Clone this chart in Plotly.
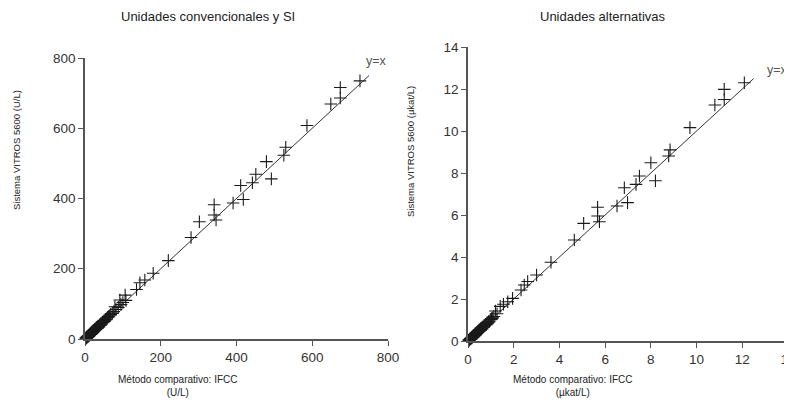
import plotly.graph_objects as go

# ---- Left panel: conventional / SI units (U/L) ----
conv_x = [2, 3, 4, 5, 6, 7, 8, 9, 10, 11, 12, 13, 14, 15, 16, 17, 18, 19, 20, 21, 22, 23, 24, 25, 26, 27, 28,
          29, 30, 31, 32, 33, 34, 35, 36, 38, 40, 42, 44, 46, 48, 50, 52, 54, 56, 58, 60, 62, 65, 68, 72, 76,
          79, 82, 88, 92, 95, 100, 106, 108, 136, 145, 158, 180, 220, 280, 302, 341, 341, 346, 391, 418, 411,
          442, 451, 492, 479, 525, 530, 586, 649, 674, 674, 726]
conv_y = [3, 2, 5, 4, 7, 8, 7, 10, 9, 12, 11, 14, 13, 16, 15, 18, 17, 21, 19, 23, 21, 25, 22, 27, 25, 29, 27,
          31, 29, 33, 31, 35, 33, 37, 35, 40, 41, 44, 43, 48, 47, 52, 51, 56, 55, 60, 62, 64, 66, 70, 73, 78,
          92, 84, 90, 111, 98, 104, 125, 110, 141, 160, 168, 187, 223, 289, 334, 353, 382, 339, 387, 397, 437,
          445, 469, 456, 505, 523, 546, 608, 669, 686, 716, 735]

# ---- Right panel: alternative units (µkat/L) ----
alt_x = [0.03, 0.05, 0.07, 0.08, 0.10, 0.12, 0.13, 0.15, 0.17, 0.18, 0.20, 0.22, 0.23, 0.25, 0.27, 0.28,
         0.30, 0.32, 0.33, 0.35, 0.37, 0.38, 0.40, 0.42, 0.43, 0.45, 0.47, 0.48, 0.50, 0.52, 0.53, 0.55,
         0.57, 0.58, 0.60, 0.63, 0.67, 0.70, 0.73, 0.77, 0.80, 0.83, 0.87, 0.90, 0.93, 0.97, 1.00, 1.03,
         1.08, 1.13, 1.20, 1.27, 1.41, 1.55, 1.74, 1.95, 2.32, 2.46, 2.61, 3.00, 3.63, 4.65, 5.06, 5.75,
         5.67, 5.67, 6.52, 6.98, 6.84, 7.35, 7.50, 8.20, 8.00, 8.78, 8.84, 9.71, 10.80, 11.21, 11.21, 12.09]
alt_y = [0.05, 0.03, 0.08, 0.07, 0.12, 0.13, 0.12, 0.17, 0.15, 0.20, 0.18, 0.23, 0.22, 0.27, 0.25, 0.30,
         0.28, 0.35, 0.32, 0.38, 0.35, 0.42, 0.37, 0.45, 0.42, 0.48, 0.45, 0.52, 0.48, 0.55, 0.52, 0.58,
         0.55, 0.62, 0.58, 0.67, 0.68, 0.73, 0.72, 0.80, 0.78, 0.87, 0.85, 0.93, 0.92, 1.00, 1.03, 1.07,
         1.10, 1.17, 1.43, 1.30, 1.65, 1.75, 1.87, 2.03, 2.43, 2.67, 2.83, 3.14, 3.75, 4.81, 5.60, 5.68,
         5.95, 6.37, 6.43, 6.59, 7.30, 7.46, 7.86, 7.63, 8.49, 8.81, 9.10, 10.16, 11.24, 11.50, 11.98, 12.30]

conv_line = [0, 750]
alt_line = [0, 12.5]

conv_ticks = [0, 200, 400, 600, 800]
alt_ticks = [0, 2, 4, 6, 8, 10, 12, 14]

FONT = "Liberation Sans, Arial, sans-serif"
MK = dict(symbol="cross-thin", size=9, line=dict(color="#1a1a1a", width=1.1), color="#1a1a1a")

fig = go.Figure()
fig.add_trace(go.Scatter(x=conv_line, y=conv_line, mode="lines", line=dict(color="#333", width=1),
                         xaxis="x", yaxis="y", showlegend=False, hoverinfo="skip"))
fig.add_trace(go.Scatter(x=conv_x, y=conv_y, mode="markers", marker=MK, cliponaxis=False,
                         xaxis="x", yaxis="y", showlegend=False))
fig.add_trace(go.Scatter(x=alt_line, y=alt_line, mode="lines", line=dict(color="#333", width=1),
                         xaxis="x2", yaxis="y2", showlegend=False, hoverinfo="skip"))
fig.add_trace(go.Scatter(x=alt_x, y=alt_y, mode="markers", marker=MK, cliponaxis=False,
                         xaxis="x2", yaxis="y2", showlegend=False))

ax = dict(showgrid=False, zeroline=False, showline=True, linecolor="#555", linewidth=1.5,
          ticks="outside", ticklen=5, tickcolor="#555", tickwidth=1.2, automargin=False,
          tickfont=dict(family=FONT, size=13.5, color="#333"))

W, H = 792, 400
OFF = 8  # page body margin offset


def px(x):
    return (x - OFF) / W


def py(y):
    return 1 - (y - OFF) / H


fig.update_layout(
    width=W, height=H, margin=dict(l=0, r=0, t=0, b=0),
    paper_bgcolor="white", plot_bgcolor="white",
    font=dict(family=FONT),
    xaxis=dict(ax, domain=[px(85), px(388)], range=[0, 800], tickvals=conv_ticks, anchor="y"),
    yaxis=dict(ax, domain=[py(339), py(58)], range=[0, 800], tickvals=conv_ticks, anchor="x"),
    xaxis2=dict(ax, domain=[px(468), px(788)], range=[0, 14], tickvals=alt_ticks, anchor="y2"),
    yaxis2=dict(ax, domain=[py(341), py(47)], range=[0, 14], tickvals=alt_ticks, anchor="x2"),
)


def txt(x, y, t, size, color="#222", angle=0, xref="paper", yref="paper"):
    fig.add_annotation(x=x, y=y, xref=xref, yref=yref, text=t, showarrow=False, textangle=angle,
                       font=dict(family=FONT, size=size, color=color), xanchor="center", yanchor="middle")


txt(px(208), py(17), "Unidades convencionales y SI", 13)
txt(px(603), py(17), "Unidades alternativas", 13)
txt(px(16), py(150), "Sistema VITROS 5600 (U/L)", 9.5, angle=-90)
txt(px(410), py(152), "Sistema VITROS 5600 (µkat/L)", 9.5, angle=-90)
txt(px(178), py(386), "Método comparativo: IFCC<br>(U/L)", 10)
txt(px(573), py(386), "Método comparativo: IFCC<br>(µkat/L)", 10)
txt(770, 791, "y=x", 12.5, color="#555", xref="x", yref="y")
txt(13.56, 12.9, "y=x", 12.5, color="#555", xref="x2", yref="y2")

fig.write_html("out.html")
